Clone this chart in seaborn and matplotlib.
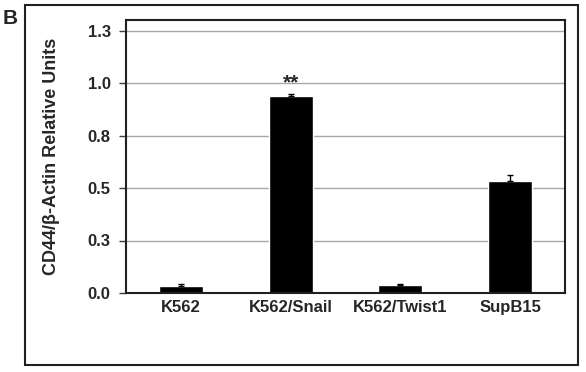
import matplotlib
matplotlib.use("Agg")
import matplotlib.pyplot as plt
import seaborn as sns
import pandas as pd
from matplotlib.patches import Rectangle

categories = ["K562", "K562/Snail", "K562/Twist1", "SupB15"]
values = [0.035, 0.94, 0.038, 0.533]
errors = [0.006, 0.010, 0.005, 0.028]
y_ticks = [0.0, 0.25, 0.5, 0.75, 1.0, 1.25]
y_tick_labels = ["0.0", "0.3", "0.5", "0.8", "1.0", "1.3"]
annotation = "**"
ylabel = "CD44/β-Actin Relative Units"
panel = "B"

sns.set_theme(style="white")
plt.rcParams['font.family'] = ['Liberation Sans', 'DejaVu Sans']

df = pd.DataFrame({"cat": categories, "val": values, "err": errors})

fig = plt.figure(figsize=(5.86, 3.72), dpi=100)
ax = fig.add_axes([126/586, 1 - 293/372, (565-126)/586, (293-20)/372])

sns.barplot(data=df, x="cat", y="val", color="black", width=0.4,
            errorbar=None, ax=ax, saturation=1)
ax.errorbar(range(len(categories)), df["val"], yerr=[[0]*len(errors), df["err"]],
            fmt="none", ecolor="black", elinewidth=1, capsize=2, capthick=1)

ax.set_ylim(0, 1.30)
ax.set_xlim(-0.5, 3.5)
ax.set_yticks(y_ticks)
ax.set_yticklabels(y_tick_labels, fontsize=12, fontweight="bold")
ax.set_xticks(range(len(categories)))
ax.set_xticklabels(categories, fontsize=12, fontweight="bold")
ax.tick_params(axis="y", which="major", length=5, width=1, color="#404040",
               left=True, direction="out", pad=6)
ax.tick_params(axis="x", length=0, pad=5)
ax.set_xlabel("")
ax.set_ylabel(ylabel, fontsize=13, fontweight="bold", labelpad=20)
ax.yaxis.grid(True, color="#A8A8A8", linewidth=1)
ax.set_axisbelow(True)
for s in ax.spines.values():
    s.set_visible(True)
    s.set_color("#202020")
    s.set_linewidth(1.5)

ax.text(1, 0.955, annotation, ha="center", va="bottom",
        fontsize=15, fontweight="bold")

fig.text(3/586, 1 - 28/372, panel, fontsize=15, fontweight="bold", ha="left", va="bottom")
fig.patches.append(Rectangle((25/586, 1 - 365/372), (578-25)/586, (365-5)/372,
                             transform=fig.transFigure, fill=False,
                             edgecolor="#202020", linewidth=1.5))

fig.savefig("out.png", dpi=100)
